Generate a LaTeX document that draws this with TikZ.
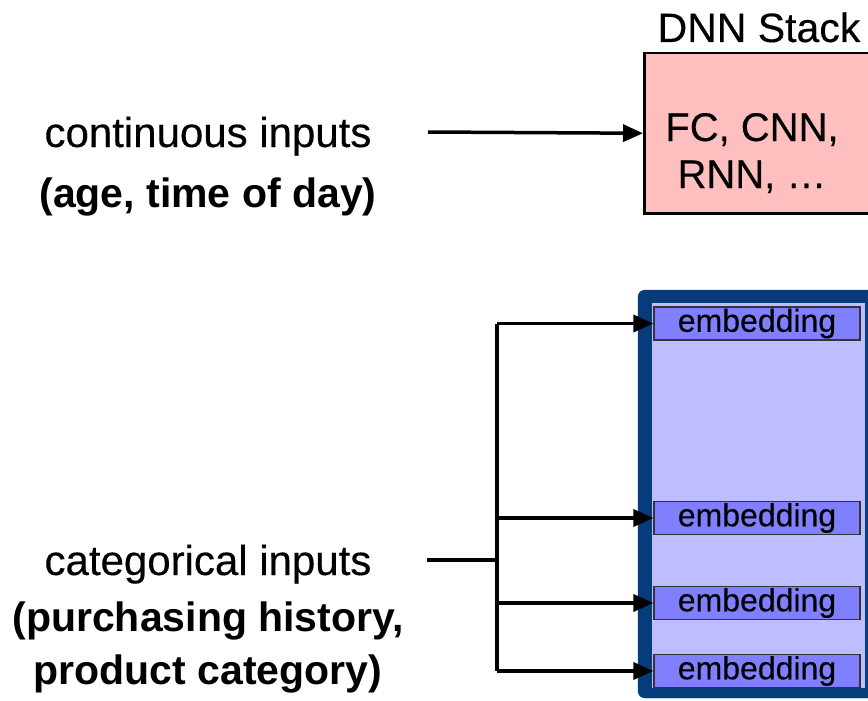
\documentclass[tikz,border=0pt]{standalone}
\usepackage{fontspec}
\setmainfont{Liberation Sans}[FakeBold=0.3, BoldFeatures={FakeBold=0}]
\usetikzlibrary{arrows.meta}
\definecolor{pinkfill}{HTML}{FFBFBF}
\definecolor{navyedge}{HTML}{063C7C}
\definecolor{lavfill}{HTML}{BDBDFF}
\definecolor{embfill}{HTML}{8080FF}
\tikzset{
  lbl/.style={inner sep=0pt, anchor=base, font=\fontsize{42}{50}\selectfont},
  lblb/.style={inner sep=0pt, anchor=base, font=\fontsize{41}{50}\selectfont\bfseries},
  dnntxt/.style={inner sep=0pt, anchor=base, font=\fontsize{40}{46}\selectfont},
  arr/.style={line width=3.5pt, -{Triangle[length=20pt,width=17pt]}},
  wire/.style={line width=3.5pt},
  embbox/.style={draw=black!80, line width=1.2pt, fill=embfill, minimum width=206pt, minimum height=33pt, inner sep=0pt, font=\fontsize{32}{35}\selectfont},
}
\begin{document}
\begin{tikzpicture}[x=1pt,y=-1pt]
\clip (0,0) rectangle (868,701);
\fill[white] (0,0) rectangle (868,701);
% DNN stack
\node[dnntxt, font=\fontsize{41}{46}\selectfont] (title) at (759,42) {DNN Stack};
\node[draw=black, line width=2.5pt, fill=pinkfill, anchor=north west, minimum width=250pt, minimum height=160pt, inner sep=0pt] (dnn) at (643,52) {};
\node[dnntxt] (fc) at (752,141) {FC, CNN,};
\node[dnntxt] (rnn) at (752,188) {RNN, …};
% continuous inputs
\node[lbl] (cont) at (208,147) {continuous inputs};
\node[lblb] (contb) at (208,207) {(age, time of day)};
\coordinate (cs) at (428,132);
\draw[arr] (cs) -- (dnn.west);
% embedding table
\draw[navyedge, fill=navyedge, rounded corners=7pt] (638,290) rectangle (890,698);
\fill[lavfill] (652,303) rectangle (865,688);
\node[embbox] (e1) at (757,323.5) {embedding};
\node[embbox] (e2) at (757,518) {embedding};
\node[embbox] (e3) at (757,603) {embedding};
\node[embbox] (e4) at (757,671) {embedding};
% categorical inputs
\node[lbl] (cat) at (208,575) {categorical inputs};
\node[lblb] (catb1) at (208,631) {(purchasing history,};
\node[lblb] (catb2) at (208,684) {product category)};
\coordinate (ks) at (427,560);
\coordinate (kb) at (497,560);
\draw[wire] (ks) -- (kb);
\draw[wire] (e1.west -| kb) -- (e4.west -| kb);
\draw[arr] (e1.west -| kb) -- (e1.west);
\draw[arr] (e2.west -| kb) -- (e2.west);
\draw[arr] (e3.west -| kb) -- (e3.west);
\draw[arr] (e4.west -| kb) -- (e4.west);
\end{tikzpicture}
\end{document}
